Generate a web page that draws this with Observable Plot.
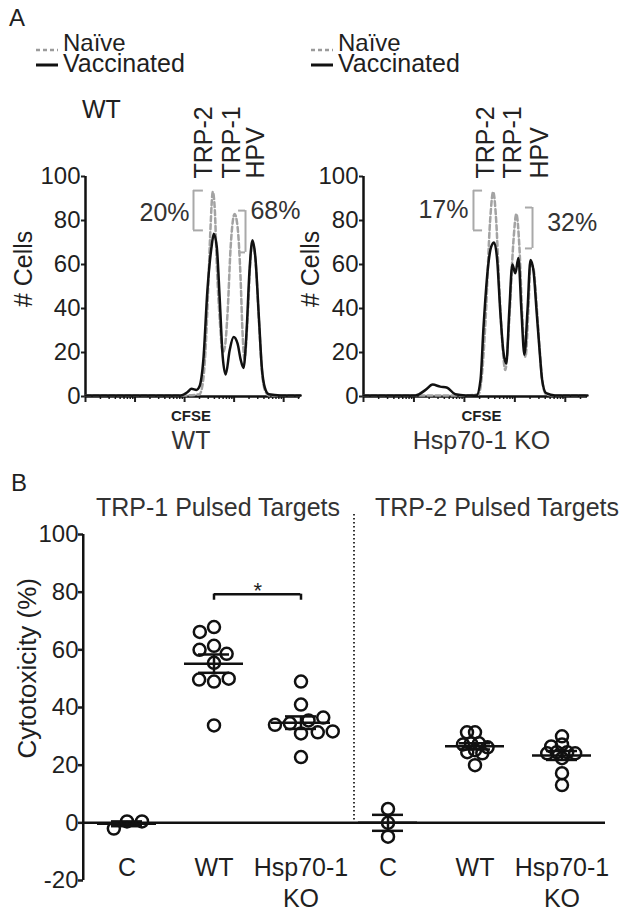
<!DOCTYPE html>
<html><head><meta charset="utf-8">
<script src="https://cdn.jsdelivr.net/npm/d3@7"></script>
<script src="https://cdn.jsdelivr.net/npm/@observablehq/plot@0.6"></script>
<style>
body{margin:0;background:#fff;}
#fig{position:relative;width:638px;height:915px;overflow:hidden;background:#fff;font-family:"Liberation Sans",Arial,sans-serif;color:#1f1f1f;}
.lbl{position:absolute;white-space:nowrap;}
</style></head><body><div id="fig"></div>
<script>
// ---------------- DATA ----------------
const legendLabels = ["Naïve", "Vaccinated"];
const yTicksA = [0, 20, 40, 60, 80, 100];
const peakLabels = ["TRP-2", "TRP-1", "HPV"];

// Panel A, WT: log10 CFSE intensity and # cells
const wtVaccLog   = [0, 1.3, 1.92, 2.06, 2.14, 2.24, 2.30, 2.38, 2.46, 2.55, 2.59, 2.65, 2.71, 2.77, 2.83, 2.91, 2.99, 3.07, 3.13, 3.19, 3.25, 3.31, 3.37, 3.43, 3.50, 3.56, 3.62, 3.70, 3.94, 4.34];
const wtVaccCount = [0.5, 0.5, 0.5, 2, 3.5, 3, 4.5, 17, 48, 69, 74, 68, 44, 18, 10, 21, 27, 24, 17, 13, 29, 57, 71, 63, 36, 13, 4, 1, 0.5, 0.5];
const wtNaiveLog   = [0, 1.3, 2.0, 2.30, 2.36, 2.42, 2.47, 2.52, 2.57, 2.61, 2.65, 2.71, 2.77, 2.81, 2.87, 2.93, 3.01, 3.07, 3.13, 3.17, 3.21, 3.27, 3.33, 3.37, 3.43, 3.50, 3.56, 3.62, 3.70, 3.94, 4.34];
const wtNaiveCount = [0.5, 0.5, 0.5, 1, 5, 20, 45, 75, 93, 85, 60, 35, 20, 22, 39, 68, 83, 77, 54, 29, 17, 35, 62, 70, 62, 35, 12, 3, 0.5, 0.5, 0.5];
const wtGateLabels = ["20%", "68%"];
const wtGateSide   = ["left", "right"];
const wtGateEdge   = [2.18, 3.23];
const wtGateInner  = [2.38, 3.09];
const wtGateTop    = [93.6, 84.5];
const wtGateBottom = [75.5, 65.5];
const wtGateTextX  = [2.10, 3.33];
const wtGateTextY  = [83.6, 84.5];
const wtPeakLabelX = [2.40, 2.95, 3.45];

// Panel A, Hsp70-1 KO
const koVaccLog   = [0, 1.03, 1.23, 1.37, 1.52, 1.66, 1.82, 2.02, 2.24, 2.32, 2.38, 2.46, 2.53, 2.59, 2.65, 2.71, 2.77, 2.83, 2.89, 2.95, 3.01, 3.07, 3.13, 3.19, 3.25, 3.31, 3.37, 3.43, 3.49, 3.54, 3.62, 3.80, 4.44];
const koVaccCount = [0.5, 0.5, 3, 5.4, 4.5, 4, 1, 0.5, 0.5, 7.7, 32, 57, 68, 70, 62, 39, 21, 15, 39, 60, 56, 63, 39, 19, 39, 62, 57, 39, 21, 7.7, 1.5, 0.5, 0.5];
const koNaiveLog   = [0, 1.0, 2.0, 2.28, 2.34, 2.42, 2.51, 2.57, 2.63, 2.69, 2.75, 2.81, 2.89, 2.97, 3.03, 3.09, 3.15, 3.21, 3.27, 3.31, 3.37, 3.43, 3.49, 3.55, 3.62, 3.80, 4.44];
const koNaiveCount = [0.5, 0.5, 0.5, 1, 8, 35, 80, 93, 80, 50, 25, 12, 35, 70, 83, 68, 35, 18, 40, 60, 58, 42, 22, 6, 1, 0.5, 0.5];
const koGateLabels = ["17%", "32%"];
const koGateSide   = ["left", "right"];
const koGateEdge   = [2.18, 3.35];
const koGateInner  = [2.36, 3.21];
const koGateTop    = [93.6, 85.9];
const koGateBottom = [75.5, 67.3];
const koGateTextX  = [2.08, 3.64];
const koGateTextY  = [85, 79];
const koPeakLabelX = [2.42, 2.97, 3.50];

// Panel B: % cytotoxicity
const groups = ["TRP-1 Pulsed Targets", "TRP-2 Pulsed Targets"];
const catLabels = ["C", "WT", "Hsp70-1\nKO"];
const yTicksB = [-20, 0, 20, 40, 60, 80, 100];
const trp1C  = [0.5, -2, 0.5];
const trp1WT = [67.9, 61.4, 55.5, 49.0, 33.8, 66.2, 60.0, 58.6, 49.7, 50.0];
const trp1KO = [49, 41, 31, 22.8, 34.5, 35.5, 36.5, 34, 31.4, 31.7];
const trp2C  = [4.8, 0, -4.8];
const trp2WT = [31.4, 25.2, 20, 31.4, 27.6, 27.6, 24.5, 27.2, 24.1, 26.2];
const trp2KO = [30, 22.4, 13.1, 24.5, 24.5, 26.5, 27.2, 24.1, 24.1, 17.2];
const sigGroup = 0, sigFrom = 1, sigTo = 2, sigY = 79.3, sigDrop = 77.2, sigText = "*";

// ---------------- LAYOUT ----------------
const FONT = "'Liberation Sans', Arial, sans-serif";
const fig = document.getElementById("fig");
const baseStyle = {background: "transparent", overflow: "visible", fontFamily: FONT, color: "#1f1f1f"};

function label(text, left, baseline, size, lh = 1, extra = {}) {
  const d = document.createElement("div");
  d.className = "lbl";
  d.textContent = text;
  d.style.left = left + "px";
  d.style.lineHeight = lh;
  d.style.top = (baseline - ((lh - 1.117) / 2 + 0.905) * size) + "px";
  d.style.fontSize = size + "px";
  Object.assign(d.style, extra);
  fig.appendChild(d);
}
function legendLine(x1, x2, y, dashed) {
  const ns = "http://www.w3.org/2000/svg";
  const s = document.createElementNS(ns, "svg");
  s.setAttribute("width", x2 - x1); s.setAttribute("height", 8);
  Object.assign(s.style, {position: "absolute", left: x1 + "px", top: (y - 4) + "px"});
  const l = document.createElementNS(ns, "line");
  l.setAttribute("x1", 0); l.setAttribute("x2", x2 - x1); l.setAttribute("y1", 4); l.setAttribute("y2", 4);
  l.setAttribute("stroke", dashed ? "#9b9b9b" : "#111");
  l.setAttribute("stroke-width", dashed ? 2.5 : 3);
  if (dashed) l.setAttribute("stroke-dasharray", "4,3");
  s.appendChild(l);
  fig.appendChild(s);
}
function place(node, left, top) {
  node.style.position = "absolute";
  node.style.left = left + "px";
  node.style.top = top + "px";
  fig.appendChild(node);
}

function hist(s) {
  const vacc = s.vaccLog.map((u, i) => ({cfse: 10 ** u, count: s.vaccCount[i]}));
  const naive = s.naiveLog.map((u, i) => ({cfse: 10 ** u, count: s.naiveCount[i]}));
  const gates = s.gateLabels.map((t, i) => ({label: t, side: s.gateSide[i], edge: 10 ** s.gateEdge[i], inner: 10 ** s.gateInner[i],
    top: s.gateTop[i], bottom: s.gateBottom[i], tx: 10 ** s.gateTextX[i], ty: s.gateTextY[i]}));
  const peaks = peakLabels.map((t, i) => ({label: t, x: 10 ** s.peakX[i]}));
  const xmax = 10 ** s.xmaxLog;
  const majors = d3.range(0, Math.floor(s.xmaxLog) + 1).map(d => 10 ** d);
  const minors = majors.flatMap(m => d3.range(2, 10).map(k => k * m)).filter(v => v <= xmax);
  const gray = "#a9a9a9";
  return Plot.plot({
    width: s.width, height: 370, marginLeft: s.ml, marginRight: s.mr, marginTop: 86, marginBottom: 64,
    style: baseStyle,
    x: {type: "log", domain: [1, xmax], axis: null},
    y: {domain: [0, 100], axis: null},
    marks: [
      Plot.axisX({ticks: minors, tickSize: 3, tickFormat: () => "", strokeWidth: 1.5, label: null}),
      Plot.axisX({ticks: majors, tickSize: 6, tickFormat: () => "", strokeWidth: 2, label: null}),
      Plot.ruleY([0], {strokeWidth: 2.5, stroke: "#111"}),
      Plot.axisY({ticks: yTicksA, tickSize: 4, tickPadding: 1, fontSize: 24, strokeWidth: 2, label: null}),
      Plot.ruleX([1], {y1: 0, y2: 100, strokeWidth: 2.5, stroke: "#111"}),
      Plot.line(naive, {x: "cfse", y: "count", curve: "monotone-x", stroke: "#a3a3a3", strokeWidth: 2.5, strokeDasharray: "5,3"}),
      Plot.line(vacc, {x: "cfse", y: "count", curve: "monotone-x", stroke: "#111", strokeWidth: 2.5}),
      Plot.ruleX(gates, {x: "edge", y1: "bottom", y2: "top", stroke: gray, strokeWidth: 2}),
      Plot.ruleY(gates, {y: "top", x1: "edge", x2: "inner", stroke: gray, strokeWidth: 2}),
      Plot.ruleY(gates, {y: "bottom", x1: "edge", x2: "inner", stroke: gray, strokeWidth: 2}),
      Plot.text(gates.filter(g => g.side === "left"), {x: "tx", y: "ty", text: "label", textAnchor: "end", fontSize: 25, fill: "#333"}),
      Plot.text(gates.filter(g => g.side === "right"), {x: "tx", y: "ty", text: "label", textAnchor: "start", fontSize: 25, fill: "#333"}),
      Plot.text(peaks, {x: "x", text: "label", frameAnchor: "top", rotate: -90, textAnchor: "start", lineAnchor: "middle", dy: 2, fontSize: 25, fill: "#222"}),
      Plot.text(["# Cells"], {text: d => d, frameAnchor: "left", y: 58, rotate: -90, textAnchor: "middle", lineAnchor: "middle", dx: s.yLabelDx, fontSize: 25}),
      Plot.text(["CFSE"], {text: d => d, frameAnchor: "bottom", lineAnchor: "bottom", dy: 24, dx: s.labelDx, fontSize: 15, fontWeight: "bold"}),
      Plot.text([s.genotype], {text: d => d, frameAnchor: "bottom", lineAnchor: "bottom", dy: 52, dx: s.labelDx, fontSize: 25, fill: "#333"})
    ]
  });
}

const histWT = hist({vaccLog: wtVaccLog, vaccCount: wtVaccCount, naiveLog: wtNaiveLog, naiveCount: wtNaiveCount,
  gateLabels: wtGateLabels, gateSide: wtGateSide, gateEdge: wtGateEdge, gateInner: wtGateInner, gateTop: wtGateTop,
  gateBottom: wtGateBottom, gateTextX: wtGateTextX, gateTextY: wtGateTextY, peakX: wtPeakLabelX,
  xmaxLog: 4.34, width: 320, ml: 85, mr: 20, yLabelDx: -62, labelDx: -2, genotype: "WT"});
const histKO = hist({vaccLog: koVaccLog, vaccCount: koVaccCount, naiveLog: koNaiveLog, naiveCount: koNaiveCount,
  gateLabels: koGateLabels, gateSide: koGateSide, gateEdge: koGateEdge, gateInner: koGateInner, gateTop: koGateTop,
  gateBottom: koGateBottom, gateTextX: koGateTextX, gateTextY: koGateTextY, peakX: koPeakLabelX,
  xmaxLog: 4.44, width: 318, ml: 43, mr: 51, yLabelDx: -53, labelDx: 6, genotype: "Hsp70-1 KO"});
place(histWT, 0, 90);
place(histKO, 320, 90);

// Panel B
const keys = groups.flatMap(g => catLabels.map(c => g + "|" + c));
const values = [trp1C, trp1WT, trp1KO, trp2C, trp2WT, trp2KO];
const rows = keys.flatMap((k, i) => values[i].map(v => ({key: k, group: Math.floor(i / 3), value: v})));
const stats = keys.map((k, i) => {
  const v = values[i], m = d3.mean(v), se = d3.deviation(v) / Math.sqrt(v.length);
  return {key: k, mean: m, lo: m - se, hi: m + se};
});
const fxW = (638 - 81 - 32) / keys.length;
const sigA = keys[sigGroup * 3 + sigFrom], sigB = keys[sigGroup * 3 + sigTo];
const ink = "#111";
const dotStyle = {fx: "key", y: "value", r: 6, stroke: ink, strokeWidth: 2.5, fill: "none"};

const plotB = Plot.plot({
  width: 638, height: 445, marginLeft: 81, marginRight: 32, marginTop: 64, marginBottom: 35,
  style: baseStyle,
  fx: {domain: keys, padding: 0, axis: null},
  y: {domain: [-20, 100], axis: null},
  marks: [
    Plot.axisY({ticks: yTicksB, tickSize: 5, tickPadding: 0, fontSize: 24, strokeWidth: 2.5, tickFormat: d => String(d), label: null}),
    Plot.ruleX([{fx: keys[0]}], {fx: "fx", x: null, y1: -20, y2: 100, dx: -fxW / 2, strokeWidth: 2.5, stroke: ink}),
    Plot.ruleY([0], {strokeWidth: 2.5, stroke: ink}),
    Plot.ruleX([{fx: keys[3]}], {fx: "fx", x: null, y1: 1, y2: 107, dx: -34, stroke: "#333", strokeWidth: 2, strokeDasharray: "1.5,2.5"}),
    Plot.tickY(stats, {fx: "key", y: "mean", insetLeft: 14, insetRight: 14, strokeWidth: 2.5, stroke: ink}),
    Plot.tickY(stats, {fx: "key", y: "lo", insetLeft: 28, insetRight: 28, strokeWidth: 2.5, stroke: ink}),
    Plot.tickY(stats, {fx: "key", y: "hi", insetLeft: 28, insetRight: 28, strokeWidth: 2.5, stroke: ink}),
    Plot.ruleX(stats, {fx: "key", x: null, y1: "lo", y2: "hi", strokeWidth: 2.5, stroke: ink}),
    Plot.dot(rows.filter(d => d.group === 0), Plot.dodgeX({anchor: "middle", padding: 3}, dotStyle)),
    Plot.dot(rows.filter(d => d.group === 1), Plot.dodgeX({anchor: "middle", padding: -4}, dotStyle)),
    // significance bracket
    Plot.ruleY([{fx: sigA, y: sigY}], {fx: "fx", y: "y", insetLeft: fxW / 2, strokeWidth: 2.5, stroke: ink}),
    Plot.ruleY([{fx: sigB, y: sigY}], {fx: "fx", y: "y", insetRight: fxW / 2, strokeWidth: 2.5, stroke: ink}),
    Plot.ruleX([{fx: sigA}, {fx: sigB}], {fx: "fx", x: null, y1: sigDrop, y2: sigY, strokeWidth: 2.5, stroke: ink}),
    Plot.text([{fx: sigA, y: sigY, t: sigText}], {fx: "fx", y: "y", text: "t", dx: fxW / 2, dy: 4, lineAnchor: "bottom", fontSize: 22}),
    // group titles
    Plot.text([{fx: keys[1], t: groups[0]}], {fx: "fx", text: "t", frameAnchor: "top", lineAnchor: "bottom", dy: -19, dx: 4, fontSize: 25, fill: "#333"}),
    Plot.text([{fx: keys[4], t: groups[1]}], {fx: "fx", text: "t", frameAnchor: "top", lineAnchor: "bottom", dy: -19, dx: 22, fontSize: 25, fill: "#333"}),
    // category labels
    Plot.text(keys, {fx: d => d, text: (d, i) => catLabels[i % 3], frameAnchor: "bottom", lineAnchor: "top", dy: -27, fontSize: 25, lineHeight: 1.24}),
    // y label
    Plot.text([{fx: keys[0], t: "Cytotoxicity (%)", y: 53.6}], {fx: "fx", y: "y", text: "t", frameAnchor: "left", rotate: -90, textAnchor: "middle", lineAnchor: "middle", dx: -56, fontSize: 26})
  ]
});
place(plotB, 0, 470);

// Panel letters, legends, top label
label("A", 9, 26, 24);
label("B", 11, 491, 24);
label("WT", 82, 118, 25);
[[36, 58, 63], [311, 333, 338]].forEach(([x1, x2, tx]) => {
  legendLine(x1, x2, 50, true);
  legendLine(x1, x2, 65, false);
  label(legendLabels[0], tx, 52, 24, 0.7);
  label(legendLabels[1], tx, 72, 25, 0.7);
});
</script></body></html>
